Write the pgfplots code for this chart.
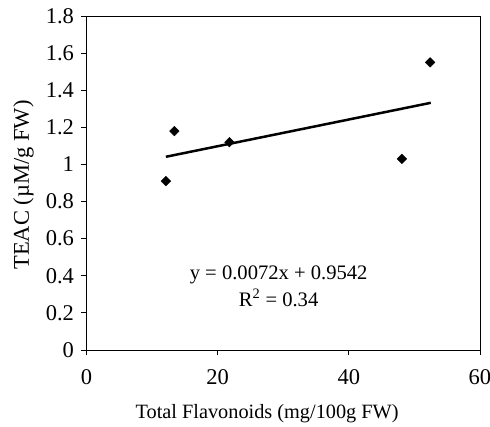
\documentclass[border=0pt]{standalone}
\usepackage{pgfplots}
\pgfplotsset{compat=1.18}
\usepackage{fontspec}
\setmainfont{Liberation Serif}
\begin{document}
\begin{tikzpicture}
\path[use as bounding box] (-86.5pt,-76pt) rectangle (403.5pt,350pt);
\begin{axis}[
  at={(0pt,0pt)}, anchor=south west,
  scale only axis,
  width=393.5pt, height=334pt,
  xmin=0, xmax=60, ymin=0, ymax=1.8,
  xtick={0,20,40,60},
  ytick={0,0.2,0.4,0.6,0.8,1,1.2,1.4,1.6,1.8},
  yticklabels={0,0.2,0.4,0.6,0.8,1,1.2,1.4,1.6,1.8},
  xticklabels={0,20,40,60},
  tick align=outside,
  xtick pos=bottom, ytick pos=left,
  major tick length=5pt,
  axis line style={line width=0.9pt},
  tick style={line width=0.8pt, black},
  ticklabel style={font=\fontsize{22.5}{26}\selectfont},
  xticklabel style={yshift=-11pt},
  yticklabel style={xshift=-4pt},
  xlabel={Total Flavonoids (mg/100g FW)},
  ylabel={TEAC (µM/g FW)},
  xlabel style={font=\fontsize{20.3}{24}\selectfont, at={(axis description cs:0.459,-0.192)}, anchor=center},
  ylabel style={font=\fontsize{22.5}{26}\selectfont, at={(axis description cs:-0.160,0.494)}, anchor=center},
  /pgf/number format/assume math mode=true,
  clip=false,
]
\addplot[only marks, mark=square*, mark options={rotate=45}, mark size=3.4pt, black] coordinates {
  (12.1,0.91) (13.4,1.18) (21.8,1.12) (48.1,1.03) (52.4,1.55)
};
\addplot[black, line width=2.5pt] coordinates {
  (12.1,1.0413) (52.5,1.3322)
};
\node[font=\fontsize{20.6}{27}\selectfont, align=center] at (axis cs:29.3,0.345)
  {y = 0.0072x + 0.9542\\ R\textsuperscript{2} = 0.34};
\end{axis}
\end{tikzpicture}
\end{document}
